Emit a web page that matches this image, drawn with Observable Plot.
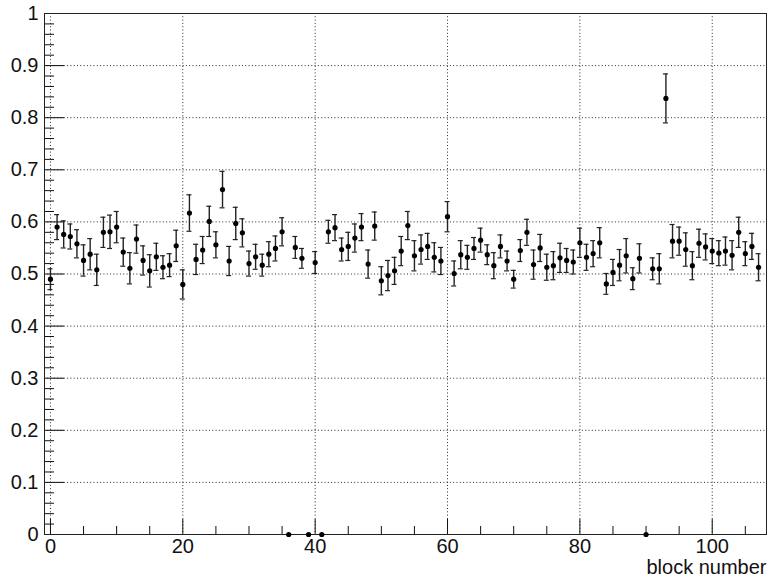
<!DOCTYPE html>
<html>
<head>
<meta charset="utf-8">
<script src="https://cdn.jsdelivr.net/npm/d3@7"></script>
<script src="https://cdn.jsdelivr.net/npm/@observablehq/plot@0.6"></script>
<style>
  html, body { margin: 0; padding: 0; background: #fff; }
  #chart svg { display: block; }
</style>
</head>
<body>
<div id="chart"></div>
<script>
// ---- data ----
const blocks = [0,1,2,3,4,5,6,7,8,9,10,11,12,13,14,15,16,17,18,19,20,21,22,23,24,25,26,27,28,29,30,31,32,33,34,35,36,37,38,39,40,41,42,43,44,45,46,47,48,49,50,51,52,53,54,55,56,57,58,59,60,61,62,63,64,65,66,67,68,69,70,71,72,73,74,75,76,77,78,79,80,81,82,83,84,85,86,87,88,89,90,91,92,93,94,95,96,97,98,99,100,101,102,103,104,105,106,107];
const values = [0.490,0.590,0.576,0.572,0.558,0.526,0.538,0.508,0.580,0.581,
                0.590,0.542,0.511,0.567,0.526,0.506,0.533,0.513,0.517,0.554,
                0.480,0.617,0.528,0.546,0.601,0.556,0.662,0.525,0.597,0.579,
                0.520,0.533,0.517,0.538,0.549,0.581,0.000,0.551,0.530,0.000,
                0.522,0.000,0.581,0.589,0.547,0.553,0.569,0.590,0.519,0.592,
                0.487,0.497,0.506,0.544,0.593,0.535,0.547,0.553,0.532,0.525,
                0.610,0.501,0.537,0.532,0.549,0.565,0.537,0.516,0.553,0.525,
                0.490,0.545,0.580,0.518,0.550,0.513,0.516,0.531,0.526,0.523,
                0.560,0.532,0.539,0.560,0.481,0.503,0.517,0.535,0.491,0.530,
                0.000,0.510,0.510,0.837,0.563,0.563,0.547,0.516,0.559,0.552,
                0.544,0.540,0.544,0.536,0.580,0.539,0.553,0.513];
const errors = [0.020,0.024,0.026,0.024,0.027,0.030,0.030,0.030,0.029,0.032,
                0.030,0.027,0.030,0.027,0.028,0.031,0.026,0.022,0.022,0.030,
                0.028,0.035,0.029,0.026,0.029,0.025,0.035,0.028,0.031,0.027,
                0.024,0.024,0.021,0.024,0.024,0.027,0.000,0.021,0.019,0.000,
                0.021,0.000,0.022,0.025,0.022,0.027,0.027,0.026,0.027,0.027,
                0.027,0.029,0.026,0.028,0.027,0.029,0.028,0.025,0.028,0.026,
                0.029,0.024,0.027,0.023,0.021,0.023,0.019,0.025,0.022,0.019,
                0.017,0.021,0.025,0.028,0.026,0.025,0.027,0.028,0.023,0.023,
                0.028,0.025,0.025,0.029,0.020,0.025,0.030,0.033,0.021,0.028,
                0.000,0.021,0.029,0.047,0.032,0.027,0.032,0.027,0.027,0.025,
                0.024,0.024,0.027,0.028,0.029,0.023,0.025,0.026];

const xMajor = [0, 20, 40, 60, 80, 100];
const xMinor = [5, 10, 15, 25, 30, 35, 45, 50, 55, 65, 70, 75, 85, 90, 95, 105];
const yMajor = [0, 0.1, 0.2, 0.3, 0.4, 0.5, 0.6, 0.7, 0.8, 0.9, 1];
const yGrid = [0.1, 0.2, 0.3, 0.4, 0.5, 0.6, 0.7, 0.8, 0.9];
const xGrid = [0, 20, 40, 60, 80, 100];
const xTitle = "block number";

// ---- build table ----
const rows = blocks.map((b, i) => ({block: b, value: values[i], err: errors[i]}));
const withErr = rows.filter(d => d.err > 0);
const yMinor = d3.range(0, 101, 2).map(k => k / 100).filter(v => Math.abs(v * 10 - Math.round(v * 10)) > 1e-9);

const W = 769, H = 577;
const mL = 44, mR = 3, mT = 13, mB = 43;
const frameW = W - mL - mR, frameH = H - mT - mB;

const font = "'Liberation Sans', Arial, Helvetica, sans-serif";
const ink = "#111";

const chart = Plot.plot({
  width: W,
  height: H,
  marginLeft: mL,
  marginRight: mR,
  marginTop: mT,
  marginBottom: mB,
  style: {fontFamily: font, fontSize: "20px", color: ink, background: "#fff"},
  x: {domain: [-0.9, 108.2], axis: null},
  y: {domain: [0, 1], axis: null},
  marks: [
    // grid
    Plot.gridX(xGrid, {stroke: "#000", strokeOpacity: 0.85, strokeWidth: 1, strokeDasharray: "1,2.3"}),
    Plot.gridY(yGrid, {stroke: "#000", strokeOpacity: 0.85, strokeWidth: 1, strokeDasharray: "1,2.3"}),
    // inward ticks (ROOT style)
    Plot.tickY(yMajor, {y: d => d, stroke: ink, strokeWidth: 1, insetRight: frameW - 20}),
    Plot.tickY(yMinor, {y: d => d, stroke: ink, strokeWidth: 1, insetRight: frameW - 10}),
    Plot.tickX(xMajor, {x: d => d, stroke: ink, strokeWidth: 1, insetTop: frameH - 15}),
    Plot.tickX(xMinor, {x: d => d, stroke: ink, strokeWidth: 1, insetTop: frameH - 8}),
    // tick labels
    Plot.axisY(yMajor, {anchor: "left", tickSize: 0, tickPadding: 6, fontSize: 20, fill: ink, label: null, tickFormat: d => d3.format("~g")(d)}),
    Plot.axisX(xMajor, {anchor: "bottom", tickSize: 0, tickPadding: 4, fontSize: 20, fill: ink, label: null}),
    // axis title
    Plot.text([xTitle], {frameAnchor: "bottom-right", text: d => d, textAnchor: "end", lineAnchor: "middle", dy: 33, fontSize: 20, fill: ink}),
    // frame
    Plot.frame({stroke: "#222", strokeWidth: 1}),
    // error bars
    Plot.ruleX(withErr, {x: "block", y1: d => d.value - d.err, y2: d => d.value + d.err, stroke: "#222", strokeWidth: 1.4}),
    Plot.ruleY(withErr, {y: d => d.value - d.err, x1: "block", x2: "block", insetLeft: -2.5, insetRight: -2.5, stroke: "#222", strokeWidth: 1.2}),
    Plot.ruleY(withErr, {y: d => d.value + d.err, x1: "block", x2: "block", insetLeft: -2.5, insetRight: -2.5, stroke: "#222", strokeWidth: 1.2}),
    // markers
    Plot.dot(rows, {x: "block", y: "value", r: 2.6, fill: "#000", stroke: "none"})
  ]
});
document.getElementById("chart").appendChild(chart);
</script>
</body>
</html>
